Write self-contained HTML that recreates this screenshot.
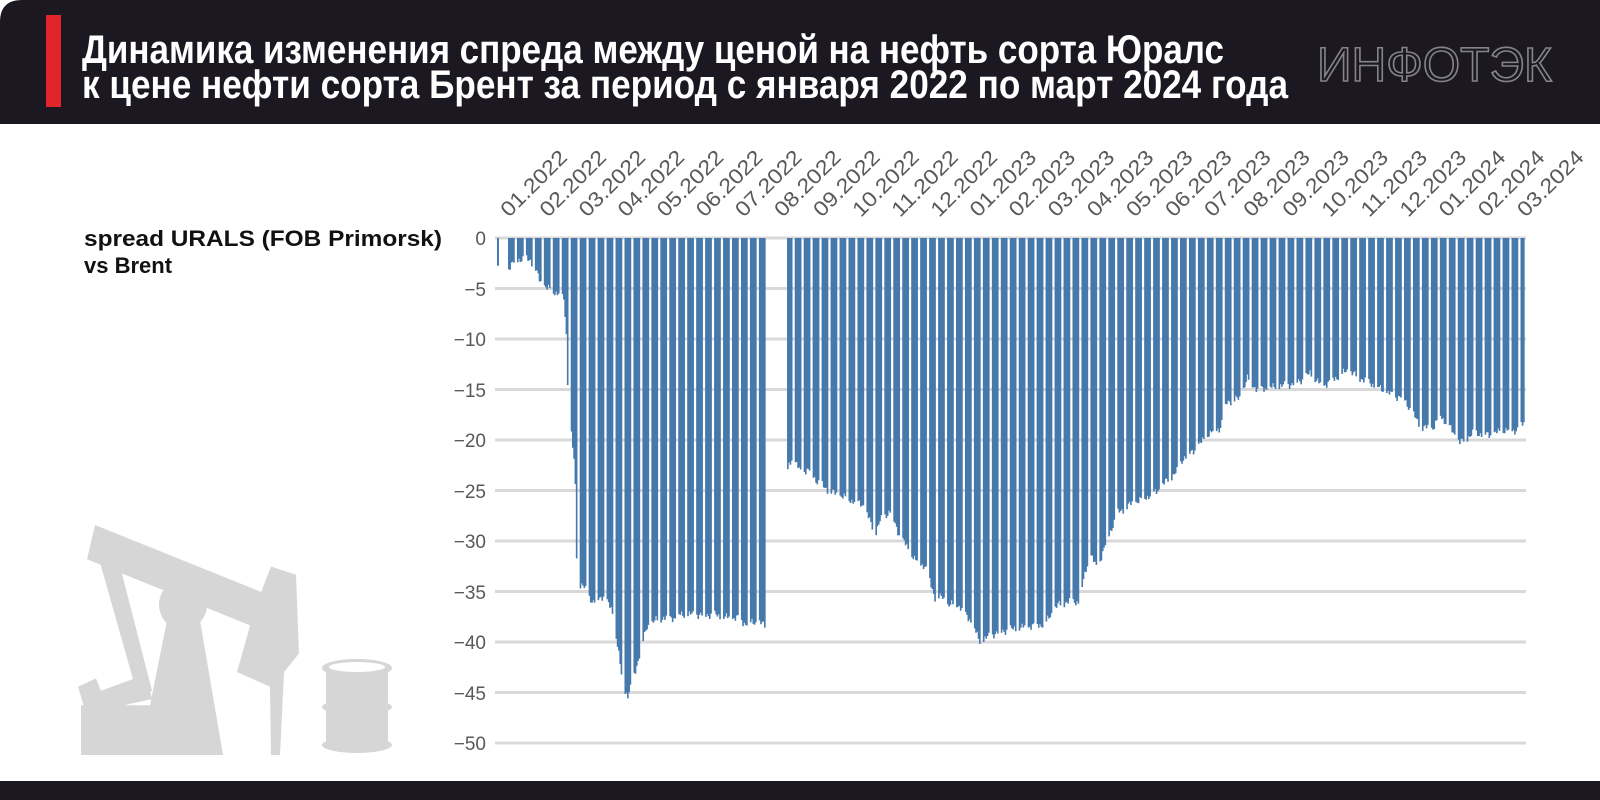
<!DOCTYPE html>
<html><head><meta charset="utf-8">
<style>
html,body{margin:0;padding:0;background:#fff;}
svg{display:block;}
</style></head>
<body>
<svg id="s" width="1600" height="800" viewBox="0 0 1600 800" xmlns="http://www.w3.org/2000/svg">
<rect width="1600" height="800" fill="#fff"/>
<path d="M22,0 H1600 V124 H0 V22 Q0,0 22,0 Z" fill="#1c1822"/>
<rect x="46" y="15" width="15" height="92" fill="#e0262c"/>
<g font-family="'Liberation Sans Narrow','Liberation Sans',sans-serif" font-weight="bold" fill="#fff" font-size="40">
<text x="82" y="63" textLength="1142" lengthAdjust="spacingAndGlyphs">Динамика изменения спреда между ценой на нефть сорта Юралс</text>
<text x="82" y="98" textLength="1206" lengthAdjust="spacingAndGlyphs">к цене нефти сорта Брент за период с января 2022 по март 2024 года</text>
</g>
<text x="1317" y="81" font-family="'Liberation Sans Narrow','Liberation Sans',sans-serif" font-size="48" fill="none" stroke="#85848a" stroke-width="1.6" textLength="235" lengthAdjust="spacingAndGlyphs">ИНФОТЭК</text>
<rect x="0" y="781" width="1600" height="19" fill="#1c1822"/>

<g font-family="'Liberation Sans',sans-serif" font-weight="bold" fill="#111" font-size="22">
<text x="84" y="246" textLength="358" lengthAdjust="spacingAndGlyphs">spread URALS (FOB Primorsk)</text>
<text x="84" y="273">vs Brent</text>
</g>

<g fill="#d6d6d6" transform="matrix(1,0,0,1.036,0,-13.7)">
<polygon points="95,520 270,588 258,620 87,553"/>
<polygon points="271,560 296,568 299,644 284,662 280,742 271,742 270,676 237,662 255,600"/>
<circle cx="183" cy="597" r="24"/>
<polygon points="167,612 200,612 223,742 81,742 81,694 150,694"/>
<polygon points="100,556 118,552 152,680 138,686"/>
<polygon points="78,676 96,668 101,680 146,664 152,688 86,702"/>
</g>
<g fill="#d6d6d6">
<ellipse cx="357" cy="668" rx="35" ry="9"/>
<rect x="326" y="668" width="62" height="78"/>
<ellipse cx="357" cy="707" rx="35" ry="8"/>
<ellipse cx="357" cy="745" rx="35" ry="8"/>
</g>
<ellipse cx="357" cy="667" rx="28" ry="5" fill="#fff"/>

<g id="grid" stroke="#d9d9d9" stroke-width="3"></g>
<g id="ylab" font-family="'Liberation Sans',sans-serif" font-size="19" fill="#595959" text-anchor="end">
<text x="486" y="245">0</text>
<text x="486" y="296">−5</text>
<text x="486" y="346">−10</text>
<text x="486" y="397">−15</text>
<text x="486" y="447">−20</text>
<text x="486" y="498">−25</text>
<text x="486" y="548">−30</text>
<text x="486" y="599">−35</text>
<text x="486" y="649">−40</text>
<text x="486" y="700">−45</text>
<text x="486" y="750">−50</text>
</g>
<g id="bars" fill="#4679ab"></g>
<g id="xlab" font-family="'Liberation Sans',sans-serif" font-size="21" fill="#595959"></g>
</svg>
<script>
(function(){
var NS="http://www.w3.org/2000/svg";
var Y0=238, K=10.1;
var g=document.getElementById('grid');
for(var i=0;i<=10;i++){var l=document.createElementNS(NS,'line');var y=Y0+i*5*K;
l.setAttribute('x1',495);l.setAttribute('x2',1526);l.setAttribute('y1',y);l.setAttribute('y2',y);g.appendChild(l);}
var xl=document.getElementById('xlab');
for(var i=0;i<27;i++){var m=i%12+1,yr=2022+Math.floor(i/12);var t=document.createElementNS(NS,'text');
t.setAttribute('transform','translate('+(509+i*39.1).toFixed(1)+',218) rotate(-45)');
t.setAttribute('textLength','84');t.setAttribute('lengthAdjust','spacingAndGlyphs');
t.textContent=(m<10?'0':'')+m+'.'+yr;xl.appendChild(t);}
var P=[[497,-2.7],[499,-2.7],[508,-3.1],[512,-2.6],[517,-2.1],[530,-2.1],[535,-3],[540,-4.3],[547,-5],[563,-5.7],[566,-8.4],[568,-16.5],[572,-20],[575,-23.4],[577,-34.2],[583,-34.5],[593,-36.1],[603,-35.4],[612,-36.9],[618,-40.7],[623,-44.6],[628,-45.3],[635,-43],[640,-40.9],[647,-38.5],[655,-37.9],[663,-37.6],[677,-37.6],[680,-37.3],[713,-37.3],[727,-37.6],[740,-37.6],[743,-38.1],[760,-38.1],[766,-38.5],
[788,-22.7],[792,-21.7],[800,-23.1],[810,-23],[817,-24.1],[830,-25.1],[847,-25.8],[863,-26.4],[875,-29.3],[880,-28],[890,-27],[900,-29.6],[907,-30.6],[915,-31.9],[925,-32.5],[935,-35.6],[943,-35.6],[947,-36.4],[957,-36.2],[970,-37.8],[980,-40],[990,-39.4],[998,-39],[1020,-38.6],[1045,-38.2],[1057,-36.4],[1067,-36],[1080,-36],[1083,-34],[1090,-31.2],[1097,-32.8],[1105,-30.4],[1117,-27.3],[1130,-26.4],[1143,-25.8],[1157,-25.1],[1163,-24.4],[1177,-23.1],[1183,-21.8],[1197,-20.8],[1207,-19.5],[1220,-18.8],[1227,-16.2],[1240,-15.9],[1247,-13.9],[1257,-15],[1273,-14.8],[1290,-14.5],[1303,-14],[1310,-13.4],[1322,-14.7],[1333,-14],[1348,-13.1],[1357,-13.7],[1373,-14.5],[1383,-15.1],[1395,-15.7],[1403,-15.7],[1413,-17.5],[1422,-18.8],[1433,-18.8],[1440,-17.5],[1450,-18.8],[1460,-20.3],[1470,-19.3],[1483,-19.5],[1493,-19],[1500,-19.1],[1508,-18.3]];
P.forEach(function(p){if(p[0]>1460)p[0]=1460+(p[0]-1460)*1.354;});
function val(x){for(var i=0;i<P.length-1;i++){if(x>=P[i][0]&&x<=P[i+1][0]){var t=(x-P[i][0])/(P[i+1][0]-P[i][0]);return P[i][1]+t*(P[i+1][1]-P[i][1]);}}return null;}
var b=document.getElementById('bars');
var d=1.28, wk=7*d, start=508;
function bar(x,w){var v=val(x+w/2);if(v===null)return;var r=document.createElementNS(NS,'rect');
r.setAttribute('x',x.toFixed(2));r.setAttribute('y',Y0);r.setAttribute('width',(w+0.35).toFixed(2));
var n=Math.sin(x*1.7)*0.25+Math.sin(x*0.53)*0.2;
r.setAttribute('height',Math.max(0,(-(v+n))*K).toFixed(2));b.appendChild(r);}
bar(497,1.6);
for(var x=start;x<1526;x+=wk){
  for(var k=0;k<5;k++){var xx=x+k*d; if(xx>766&&xx<787)continue; if(xx>1524)break; bar(xx,d);}
}
})();
</script>
</body></html>
